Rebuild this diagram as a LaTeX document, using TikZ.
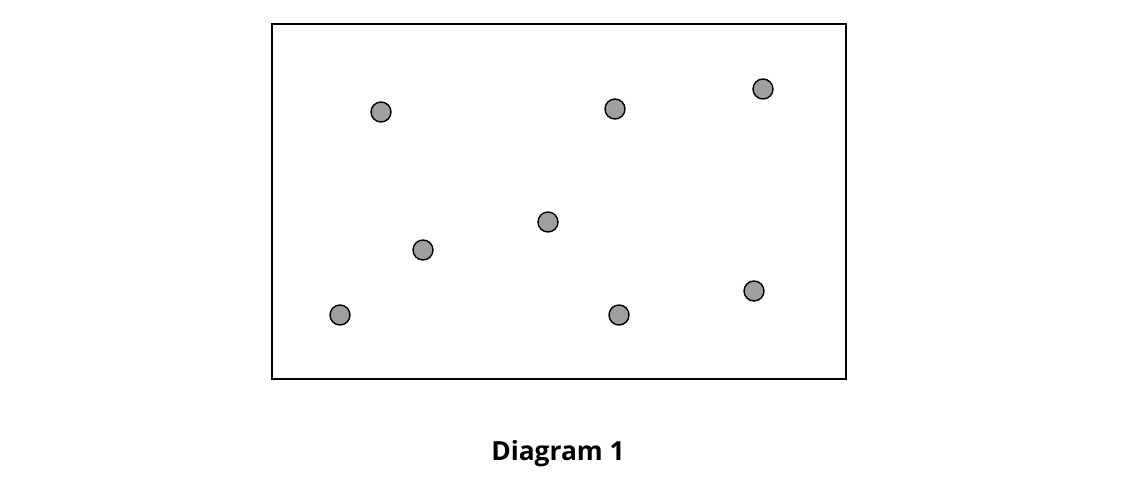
\documentclass[tikz,border=0pt]{standalone}
\usepackage{fontspec}
\setsansfont{Open Sans}
\def\boxframe{(5.44,2.18) rectangle (16.92,9.28)}
\tikzset{dot/.style={circle,draw=black,fill=gray!75,line width=0.8pt,minimum size=0.4cm,inner sep=0pt}}
\begin{document}
\begin{tikzpicture}
	\useasboundingbox (0,0) rectangle (22.48,9.76);
	
	%drawing the frame
	\draw [line width=1.3pt] \boxframe;
	
	\node[dot] (p1) at (7.62,7.52){};
	\node[dot] (p2) at (12.30,7.58){};
	\node[dot] (p3) at (15.26,7.98){};
	\node[dot] (p4) at (10.96,5.32){};
	\node[dot] (p5) at (8.46,4.76){};
	\node[dot] (p6) at (6.80,3.46){};
	\node[dot] (p7) at (12.38,3.46){};
	\node[dot] (p8) at (15.08,3.94){};
	
	\node[font=\sffamily\bfseries\fontsize{15}{18}\selectfont] (title) at (11.16,0.68){Diagram 1};
\end{tikzpicture}
\end{document}
